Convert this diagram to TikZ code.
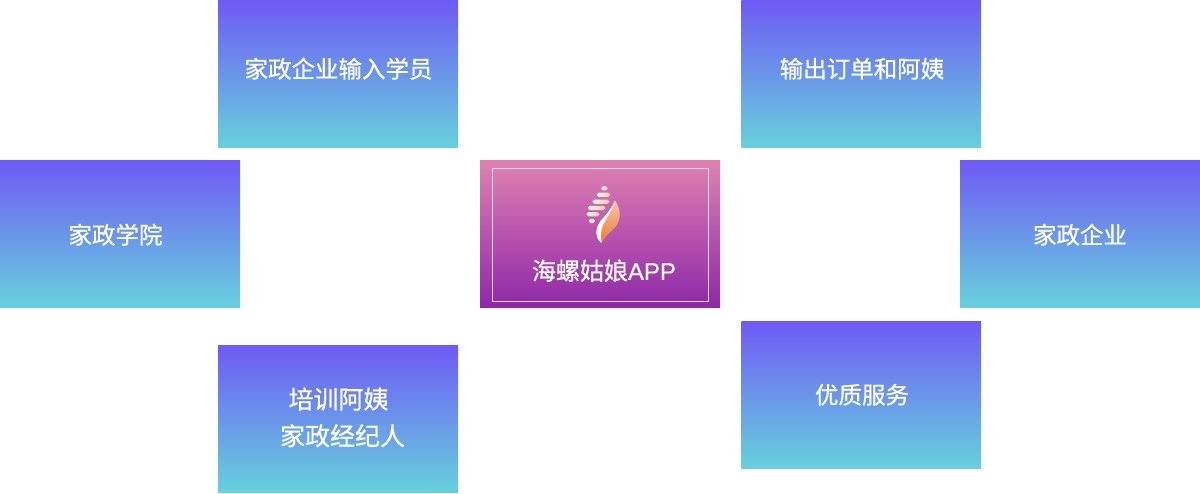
\documentclass[tikz,border=0pt]{standalone}
\usepackage{fontspec}
\setmainfont[FakeBold=0.6]{Noto Sans CJK SC}
\newfontfamily\applatin[FakeBold=0.3]{Liberation Sans}
\definecolor{btop}{HTML}{6F5AF6}
\definecolor{bbot}{HTML}{66D1DC}
\definecolor{ctop}{HTML}{DF82B1}
\definecolor{cbot}{HTML}{8E27A9}
\definecolor{peach}{HTML}{F6C6A6}
\definecolor{orangel}{HTML}{EE7A36}
\tikzset{
  panel/.style={draw=none,inner sep=0pt,outer sep=0pt,minimum width=240pt,minimum height=147.6pt,top color=btop,bottom color=bbot,middle color=btop!50!bbot},
  hub/.style={draw=none,inner sep=0pt,outer sep=0pt,minimum width=240pt,minimum height=147.6pt,top color=ctop,bottom color=cbot,middle color=ctop!50!cbot},
  label/.style={text=white,font=\fontsize{23.5pt}{28pt}\selectfont,inner sep=0pt},
  biglabel/.style={label,font=\fontsize{25pt}{30pt}\selectfont},
  hublabel/.style={label,font=\fontsize{24pt}{29pt}\selectfont},
  bar/.style={left color=white!90!peach,right color=peach,rounded corners=1.9pt,draw=none}
}
\begin{document}
\begin{tikzpicture}[x=1pt,y=-1pt]
\useasboundingbox (0,0) rectangle (1200,493);
\node[panel] (a) at (338,74) {};
\node[panel,minimum width=239.6pt] (b) at (861.2,74) {};
\node[panel] (c) at (120,234.1) {};
\node[hub]   (d) at (600,234.1) {};
\node[panel] (e) at (1080,234.1) {};
\node[panel] (f) at (338,419.1) {};
\node[panel,minimum width=239.6pt] (g) at (861.2,395) {};
\node[draw=white!70!ctop,line width=0.9pt,inner sep=0pt,minimum width=216pt,minimum height=133pt] (inner) at (600,234.8) {};
\node[label] (ta) at (338.5,68.7) {家政企业输入学员};
\node[label] (tb) at (862,68.7) {输出订单和阿姨};
\node[label] (tc) at (115.5,234.7) {家政学院};
\node[label] (te) at (1080,234.7) {家政企业};
\node[label] (tg) at (862,394.7) {优质服务};
\node[biglabel] (tf1) at (338.5,399) {培训阿姨};
\node[biglabel] (tf2) at (342.5,435.7) {家政经纪人};
\node[hublabel] (td) at (604,270.7) {海螺姑娘\applatin APP};
% logo
\shade[bar] (601.3,186.2) rectangle (607.7,190.4);
\shade[bar] (596.8,192.6) rectangle (610.2,196.9);
\shade[bar] (592.5,199.6) rectangle (609.5,203.8);
\shade[bar] (587.8,205.9) rectangle (605.5,210.1);
\shade[bar] (586.5,212.2) rectangle (599.5,216.4);
\shade[bar] (588.8,218.9) rectangle (595.2,223.1);
\shade[top color=peach,bottom color=orangel]
  (615,200.7) .. controls (621,209) and (622,220) .. (614,228.5)
  .. controls (608,234) and (604,238) .. (601.7,243)
  .. controls (595,238) and (594.5,229) .. (601,220.5)
  .. controls (607,214) and (612,208) .. (615,200.7) -- cycle;
\fill[white]
  (615,200.7) .. controls (613,210) and (606,218) .. (602.5,226)
  .. controls (600.5,232) and (600.5,238) .. (601.7,243)
  .. controls (595,238) and (594.5,229) .. (601,220.5)
  .. controls (607,214) and (612,208) .. (615,200.7) -- cycle;
\end{tikzpicture}
\end{document}
